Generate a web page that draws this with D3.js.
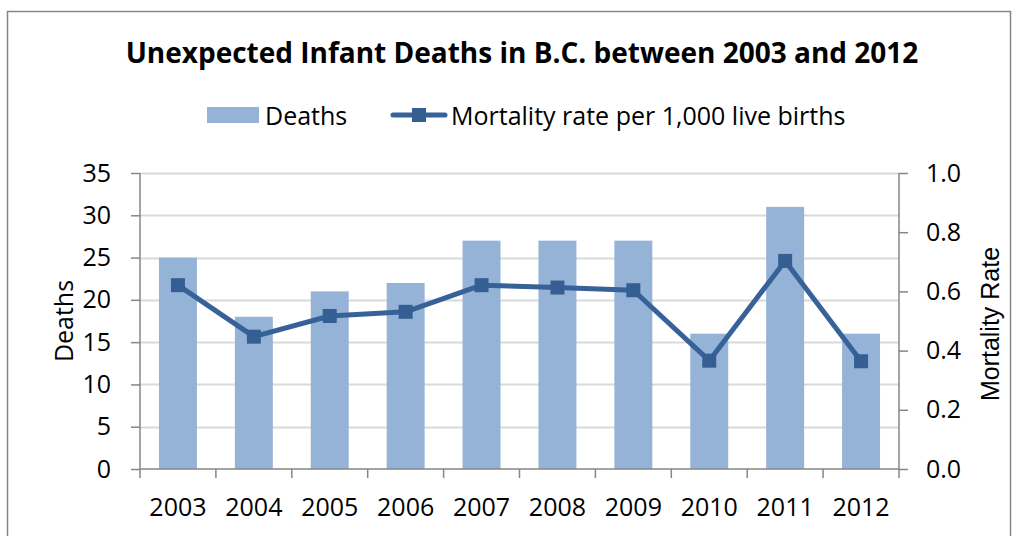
<!DOCTYPE html>
<meta charset="utf-8">
<script src="https://d3js.org/d3.v7.min.js"></script>
<style>
  body { margin: 0; background: #fff; }
  text { font-family: "Open Sans", "Noto Sans", sans-serif; fill: #000; }
</style>
<svg id="chart"></svg>
<script>

// chart data
var years = ["2003", "2004", "2005", "2006", "2007", "2008", "2009", "2010", "2011", "2012"];
var deaths = [25, 18, 21, 22, 27, 27, 27, 16, 31, 16];
var mortality = [0.621, 0.447, 0.517, 0.531, 0.621, 0.613, 0.604, 0.366, 0.703, 0.364];
var deathTicks = [0, 5, 10, 15, 20, 25, 30, 35];
var rateTicks = [0.0, 0.2, 0.4, 0.6, 0.8, 1.0];

var W = 1024, H = 536;
var margin = { top: 173, right: 125, bottom: 67, left: 140 };
var width = W - margin.left - margin.right,
    height = H - margin.top - margin.bottom;

var svg = d3.select("#chart").attr("width", W).attr("height", H);

// outer chart border
svg.append("rect")
  .attr("x", 7.5).attr("y", 11.5)
  .attr("width", 1003).attr("height", 540)
  .attr("fill", "none").attr("stroke", "#868686").attr("stroke-width", 1.5);

var g = svg.append("g").attr("transform", "translate(" + margin.left + "," + margin.top + ")");

var x = d3.scaleBand().domain(years).range([0, width]).padding(0);
var yL = d3.scaleLinear().domain([0, 35]).range([height, 0]);
var yR = d3.scaleLinear().domain([0, 1]).range([height, 0]);

// gridlines
g.append("g")
  .selectAll("line")
  .data(deathTicks.slice(1))
  .enter().append("line")
    .attr("x1", 0).attr("x2", width)
    .attr("y1", function(d) { return Math.round(yL(d)) + 0.5; })
    .attr("y2", function(d) { return Math.round(yL(d)) + 0.5; })
    .attr("stroke", "#d9d9d9").attr("stroke-width", 2);

// bars
g.append("g")
  .selectAll("rect")
  .data(deaths)
  .enter().append("rect")
    .attr("x", function(d, i) { return x(years[i]) + x.bandwidth() * 0.25; })
    .attr("width", x.bandwidth() * 0.5)
    .attr("y", function(d) { return yL(d); })
    .attr("height", function(d) { return height - yL(d); })
    .attr("fill", "#95b3d7");

// axes
var axisColor = "#868686";
var leftAxis = g.append("g")
  .call(d3.axisLeft(yL).tickValues(deathTicks).tickSize(9).tickPadding(20).tickFormat(d3.format("d")));
var rightAxis = g.append("g").attr("transform", "translate(" + width + ",0)")
  .call(d3.axisRight(yR).tickValues(rateTicks).tickSize(9).tickPadding(18).tickFormat(d3.format(".1f")));
var bottomAxis = g.append("g").attr("transform", "translate(0," + height + ")")
  .call(d3.axisBottom(x).tickSize(0).tickPadding(29));

// category boundary ticks on the x axis
g.append("g")
  .selectAll("line")
  .data(d3.range(years.length + 1))
  .enter().append("line")
    .attr("x1", function(i) { return i * x.step(); })
    .attr("x2", function(i) { return i * x.step(); })
    .attr("y1", height).attr("y2", height + 9)
    .attr("stroke", axisColor).attr("stroke-width", 1.5);

[leftAxis, rightAxis, bottomAxis].forEach(function(a) {
  a.selectAll("path").attr("stroke", axisColor).attr("stroke-width", 1.5);
  a.selectAll("line").attr("stroke", axisColor).attr("stroke-width", 1.5);
  a.selectAll("text").style("font-size", "25px").attr("fill", "#000");
});
bottomAxis.select(".domain").attr("d", "M0,0H" + width);
leftAxis.select(".domain").attr("d", "M0,0V" + height);
rightAxis.select(".domain").attr("d", "M0,0V" + height);

// mortality line
var line = d3.line()
  .x(function(d, i) { return x(years[i]) + x.bandwidth() / 2; })
  .y(function(d) { return yR(d); });

g.append("path")
  .datum(mortality)
  .attr("d", line)
  .attr("fill", "none")
  .attr("stroke", "#376199")
  .attr("stroke-width", 5)
  .attr("stroke-linejoin", "round");

g.append("g")
  .selectAll("rect")
  .data(mortality)
  .enter().append("rect")
    .attr("x", function(d, i) { return x(years[i]) + x.bandwidth() / 2 - 7; })
    .attr("y", function(d) { return yR(d) - 7; })
    .attr("width", 14).attr("height", 14)
    .attr("fill", "#355f93");

// title
svg.append("text")
  .attr("x", 522).attr("y", 63)
  .attr("text-anchor", "middle")
  .style("font-size", "28px").style("font-weight", "bold")
  .text("Unexpected Infant Deaths in B.C. between 2003 and 2012");

// legend
var legend = svg.append("g");
legend.append("rect")
  .attr("x", 207).attr("y", 107).attr("width", 52).attr("height", 16)
  .attr("fill", "#95b3d7");
legend.append("text")
  .attr("x", 265).attr("y", 125)
  .style("font-size", "25px")
  .text("Deaths");
legend.append("line")
  .attr("x1", 393).attr("x2", 445).attr("y1", 115).attr("y2", 115)
  .attr("stroke", "#376199").attr("stroke-width", 5).attr("stroke-linecap", "round");
legend.append("rect")
  .attr("x", 412).attr("y", 108).attr("width", 14).attr("height", 14)
  .attr("fill", "#355f93");
legend.append("text")
  .attr("x", 451).attr("y", 125)
  .style("font-size", "25px")
  .text("Mortality rate per 1,000 live births");

// axis titles
svg.append("text")
  .attr("transform", "translate(73,321) rotate(-90)")
  .attr("text-anchor", "middle")
  .style("font-size", "25px")
  .text("Deaths");
svg.append("text")
  .attr("transform", "translate(999,324) rotate(-90)")
  .attr("text-anchor", "middle")
  .style("font-family", "'Liberation Sans', Arial, sans-serif")
  .style("font-size", "25px")
  .text("Mortality Rate");

</script>
